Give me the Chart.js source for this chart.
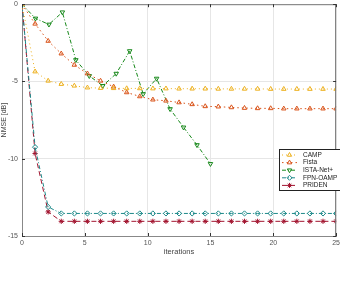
<!DOCTYPE html>
<html>
<head>
<meta charset="utf-8">
<script src="https://cdn.jsdelivr.net/npm/chart.js@4.4.0/dist/chart.umd.min.js"></script>
<style>
  html, body { margin: 0; padding: 0; background: #fff; overflow: hidden; }
  #nmseChart { display: block; margin-top: -4px; }
</style>
</head>
<body>
<canvas id="nmseChart" width="343" height="294"></canvas>
<script>
// iteration positions of the markers (25 points over 0..25, ISTA-Net+ 15 points over 0..15)
const iterAll = [0, 1.042, 2.083, 3.125, 4.167, 5.208, 6.25, 7.292, 8.333, 9.375, 10.417, 11.458, 12.5,
  13.542, 14.583, 15.625, 16.667, 17.708, 18.75, 19.792, 20.833, 21.875, 22.917, 23.958, 25];
const iterIsta = [0, 1.071, 2.143, 3.214, 4.286, 5.357, 6.429, 7.5, 8.571, 9.643, 10.714, 11.786, 12.857, 13.929, 15];

// NMSE [dB]
const campNmse = [0, -4.36, -4.96, -5.17, -5.28, -5.4, -5.43, -5.44, -5.45, -5.45, -5.46, -5.46, -5.47,
  -5.47, -5.47, -5.48, -5.48, -5.48, -5.48, -5.49, -5.49, -5.49, -5.49, -5.49, -5.49];
const fistaNmse = [0, -1.27, -2.38, -3.2, -3.93, -4.49, -4.96, -5.34, -5.71, -5.97, -6.18, -6.25, -6.36,
  -6.48, -6.61, -6.63, -6.68, -6.72, -6.74, -6.74, -6.76, -6.76, -6.76, -6.76, -6.76];
const istaNmse = [0, -0.92, -1.31, -0.52, -3.61, -4.64, -5.28, -4.49, -3.03, -5.81, -4.81, -6.78, -7.97, -9.11, -10.33];
const fpnNmse = [0, -9.25, -13.12, -13.54, -13.54, -13.54, -13.54, -13.54, -13.54, -13.54, -13.54, -13.54, -13.54,
  -13.54, -13.54, -13.54, -13.54, -13.54, -13.54, -13.54, -13.54, -13.54, -13.54, -13.54, -13.54];
const pridenNmse = [0, -9.66, -13.44, -14.05, -14.05, -14.05, -14.05, -14.05, -14.05, -14.05, -14.05, -14.05, -14.05,
  -14.05, -14.05, -14.05, -14.05, -14.05, -14.05, -14.05, -14.05, -14.05, -14.05, -14.05, -14.05];

const xTicks = [0, 5, 10, 15, 20, 25];
const yTicks = [-15, -10, -5, 0];

function toXY(xs, ys) {
    return ys.map((y, i) => ({ x: xs[i], y: y }));
}

function makeSet(label, xs, ys, color, style, dash, rot, fill) {
    return {
        label: label,
        data: toXY(xs, ys),
        borderColor: color,
        borderWidth: 1,
        borderDash: dash,
        pointStyle: style,
        pointRotation: rot,
        pointRadius: 2.6,
        pointBorderColor: color,
        pointBackgroundColor: fill,
        pointBorderWidth: 1,
        tension: 0
    };
}

// frame on all four sides with inward ticks, MATLAB style
const framePlugin = {
    id: 'frame',
    afterDatasetsDraw(chart) {
        const { ctx, chartArea: a, scales } = chart;
        ctx.save();
        ctx.strokeStyle = '#777';
        ctx.lineWidth = 1;
        ctx.beginPath();
        ctx.moveTo(a.left, a.top + 0.5); ctx.lineTo(a.right, a.top + 0.5);
        ctx.moveTo(a.right - 0.5, a.top); ctx.lineTo(a.right - 0.5, a.bottom);
        ctx.stroke();
        ctx.strokeStyle = '#333';
        ctx.beginPath();
        xTicks.forEach(v => {
            const px = Math.round(scales.x.getPixelForValue(v)) + 0.5;
            ctx.moveTo(px, a.bottom); ctx.lineTo(px, a.bottom - 3);
            ctx.moveTo(px, a.top); ctx.lineTo(px, a.top + 3);
        });
        yTicks.forEach(v => {
            const py = Math.round(scales.y.getPixelForValue(v)) + 0.5;
            ctx.moveTo(a.left, py); ctx.lineTo(a.left + 3, py);
            ctx.moveTo(a.right, py); ctx.lineTo(a.right - 3, py);
        });
        ctx.stroke();
        ctx.restore();
    }
};

// legend box sits over the lower right of the plot
const legendPlugin = {
    id: 'boxLegend',
    afterDraw(chart) {
        const ctx = chart.ctx;
        const bx = 279.5, by = 153.5;
        ctx.save();
        ctx.fillStyle = '#fff';
        ctx.fillRect(bx, by, 64, 41);
        ctx.strokeStyle = '#222';
        ctx.lineWidth = 1;
        ctx.strokeRect(bx, by, 64, 41);
        chart.data.datasets.forEach((ds, i) => {
            const y = by + 5.5 + i * 7.6;
            ctx.strokeStyle = ds.borderColor;
            ctx.setLineDash(ds.borderDash);
            ctx.beginPath();
            ctx.moveTo(282, y); ctx.lineTo(297, y);
            ctx.stroke();
            ctx.setLineDash([]);
            ctx.fillStyle = ds.pointBackgroundColor;
            Chart.helpers.drawPoint(ctx, {
                pointStyle: ds.pointStyle, radius: 2.5, rotation: ds.pointRotation, borderWidth: 1
            }, 289.5, y);
            ctx.fillStyle = '#222';
            ctx.font = '6.5px "Liberation Sans"';
            ctx.textBaseline = 'middle';
            ctx.fillText(ds.label, 303, y);
        });
        ctx.restore();
    }
};

const tickFont = { family: 'Liberation Sans', size: 7 };

new Chart(document.getElementById('nmseChart').getContext('2d'), {
    type: 'line',
    data: {
        datasets: [
            makeSet('CAMP', iterAll, campNmse, '#EDB120', 'triangle', [1, 3], 0, 'rgba(0,0,0,0)'),
            makeSet('Fista', iterAll, fistaNmse, '#D95319', 'triangle', [1.5, 3], 0, 'rgba(0,0,0,0)'),
            makeSet('ISTA-Net+', iterIsta, istaNmse, '#17881A', 'triangle', [4, 2, 1, 2], 180, 'rgba(0,0,0,0)'),
            makeSet('FPN-OAMP', iterAll, fpnNmse, '#1E8A8A', 'rectRot', [4, 2, 1, 2], 0, 'rgba(0,0,0,0)'),
            makeSet('PRIDEN', iterAll, pridenNmse, '#A2142F', 'star', [5, 3], 0, '#A2142F')
        ]
    },
    options: {
        responsive: false,
        animation: false,
        devicePixelRatio: 1,
        layout: { padding: { left: 0, top: 1, right: 0, bottom: 34 } },
        plugins: { legend: { display: false }, tooltip: { enabled: false } },
        scales: {
            x: {
                type: 'linear', min: 0, max: 25,
                afterBuildTicks: s => { s.ticks = xTicks.map(v => ({ value: v })); },
                afterFit: s => { s.height = 20; },
                ticks: { font: tickFont, color: '#555', padding: 3, maxRotation: 0 },
                grid: { color: '#e6e6e6', drawTicks: false },
                border: { color: '#888' },
                title: { display: true, text: 'iterations', font: { family: 'Liberation Sans', size: 7.5 }, color: '#444', padding: 0 }
            },
            y: {
                type: 'linear', min: -15, max: 0,
                afterBuildTicks: s => { s.ticks = yTicks.map(v => ({ value: v })); },
                afterFit: s => { s.width = 22; },
                ticks: { font: tickFont, color: '#555', padding: 4 },
                grid: { color: '#e6e6e6', drawTicks: false },
                border: { color: '#888' },
                title: { display: true, text: 'NMSE [dB]', font: { family: 'Liberation Sans', size: 7 }, color: '#444', padding: 0 }
            }
        }
    },
    plugins: [framePlugin, legendPlugin]
});
</script>
</body>
</html>
